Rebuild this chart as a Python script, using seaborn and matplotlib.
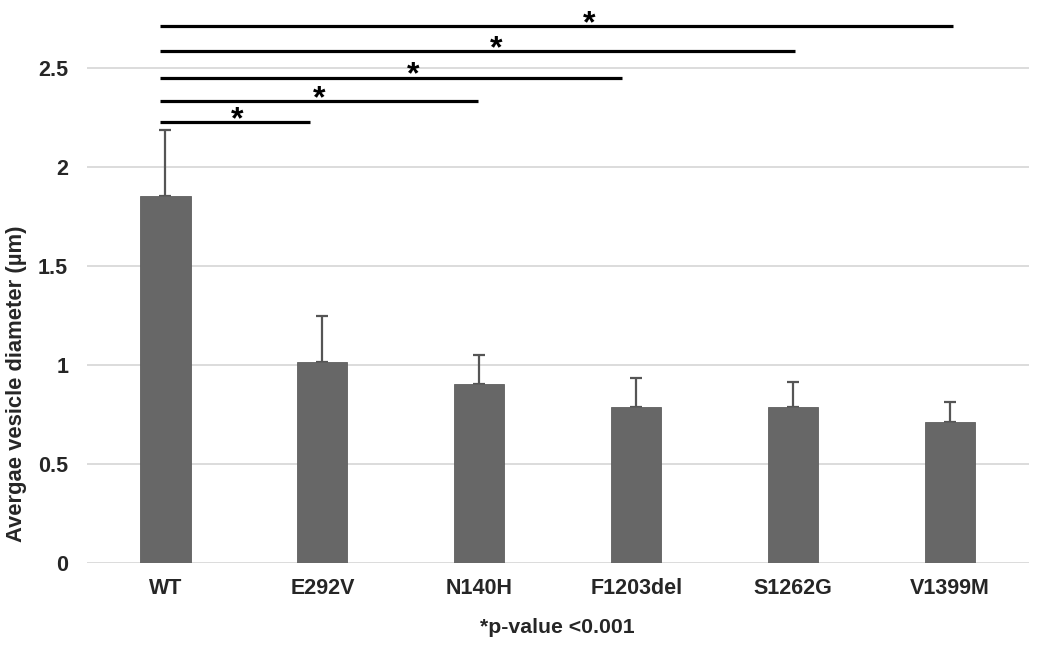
import numpy as np
import pandas as pd
import matplotlib
matplotlib.use("Agg")
import matplotlib.pyplot as plt
import seaborn as sns

# Données
variants = ["WT", "E292V", "N140H", "F1203del", "S1262G", "V1399M"]
diametre = [1.856, 1.015, 0.902, 0.786, 0.786, 0.71]
erreur = [0.33, 0.23, 0.15, 0.15, 0.13, 0.10]

# Barres de significativité (WT vs chaque variant)
sig_debut = [-0.035, -0.035, -0.035, -0.035, -0.035]
sig_fin = [0.92, 1.99, 2.91, 4.01, 5.02]
sig_y = [2.227, 2.335, 2.453, 2.586, 2.712]
etoile_x = [0.46, 0.98, 1.58, 2.11, 2.70]

sns.set_style("white")
plt.rcParams["font.family"] = ["Liberation Sans", "DejaVu Sans"]
plt.rcParams["font.weight"] = "bold"

data = pd.DataFrame({"variant": variants, "diametre": diametre})

fig = plt.figure(figsize=(10.39, 6.45), dpi=100)
ax = fig.add_axes([0.0837, 0.1276, 0.9063, 0.8586])

sns.barplot(data=data, x="variant", y="diametre", color="#676767",
            width=0.32, saturation=1, edgecolor="#5f5f5f", linewidth=0.6,
            zorder=3, ax=ax)

x = np.arange(len(variants))
ax.errorbar(x, diametre, yerr=[np.zeros(len(erreur)), erreur], fmt="none",
            ecolor="#555555", elinewidth=1.6, capsize=4, capthick=1.6, zorder=2)

# Lignes de significativité
for d, f, y, xs in zip(sig_debut, sig_fin, sig_y, etoile_x):
    ax.plot([d, f], [y, y], color="black", lw=2.3, solid_capstyle="butt",
            clip_on=False, zorder=4)
    ax.text(xs, y - 0.03, "*", ha="center", va="baseline", fontsize=23,
            fontweight="bold", color="black", clip_on=False)

ax.set_xlim(-0.5, 5.5)
ax.set_ylim(0, 2.8)
ax.set_yticks([0, 0.5, 1, 1.5, 2, 2.5])
ax.set_yticklabels(["0", "0.5", "1", "1.5", "2", "2.5"])
ax.yaxis.grid(True, color="#d9d9d9", lw=1.3, zorder=0)
ax.set_axisbelow(True)
for s in ax.spines.values():
    s.set_visible(False)
ax.tick_params(axis="both", length=0, labelsize=15.5)
ax.tick_params(axis="x", pad=11)
ax.tick_params(axis="y", pad=13.5)
for lab in ax.get_xticklabels() + ax.get_yticklabels():
    lab.set_fontweight("bold")

ax.set_xlabel("*p-value <0.001", fontsize=15.3, fontweight="bold", labelpad=14)
ax.set_ylabel("Avergae vesicle diameter (µm)", fontsize=15.8, fontweight="bold")
ax.yaxis.set_label_coords(-0.064, 0.324)

fig.savefig("out.png", dpi=100)
